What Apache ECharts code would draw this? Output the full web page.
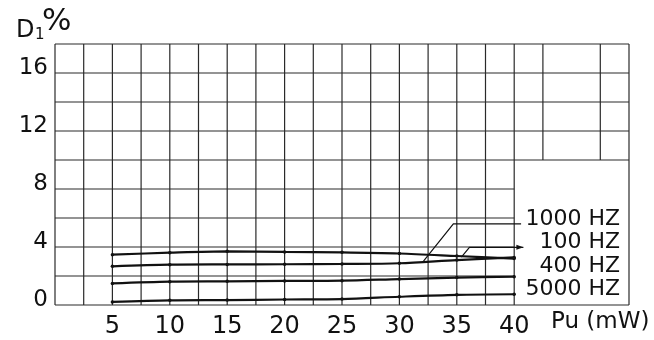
<!DOCTYPE html>
<html>
<head>
<meta charset="utf-8">
<script src="https://cdn.jsdelivr.net/npm/echarts@6/dist/echarts.min.js"></script>
<style>html,body{margin:0;padding:0;background:#fff}#c{width:654px;height:340px}</style>
</head>
<body>
<div id="c"></div>
<script>
// ---- data ----
const powerMW = [5, 10, 15, 20, 25, 30, 35, 40];
const d100Hz  = [3.47, 3.61, 3.70, 3.66, 3.63, 3.55, 3.38, 3.20];
const d1000Hz = [2.67, 2.78, 2.80, 2.81, 2.83, 2.88, 3.10, 3.28];
const d400Hz  = [1.49, 1.61, 1.63, 1.66, 1.68, 1.79, 1.89, 1.95];
const d5000Hz = [0.21, 0.32, 0.34, 0.38, 0.41, 0.57, 0.70, 0.74];
const seriesNames = ['100 HZ', '1000 HZ', '400 HZ', '5000 HZ'];
const xTickLabels = [5, 10, 15, 20, 25, 30, 35, 40];
const yTickLabels = [0, 4, 8, 12, 16];
// graph-paper rulings (data units)
const xRulings = [0,2.5,5,7.5,10,12.5,15,17.5,20,22.5,25,27.5,30,32.5,35,37.5,40,42.5,47.5,50];
const yRulings = [0,2,4,6,8,10,12,14,16,18];
const xMax = 50, yMax = 18;
const legendBoxX = 40, legendBoxY = 10; // open area holding the labels
// leader lines (data units)
const leader1000 = [[32.1, 3.02], [34.7, 5.6], [40.6, 5.6]];
const leader100  = [[35.4, 3.30], [36.1, 3.98], [40.8, 3.98]];

// ---- build ----
const rulingLines = [];
xRulings.forEach(x => {
  const y0 = (x > legendBoxX && x < xMax) ? legendBoxY : 0;
  rulingLines.push([x, y0, x, yMax]);
});
yRulings.forEach(y => {
  const x1 = (y > 0 && y < legendBoxY) ? legendBoxX : xMax;
  rulingLines.push([0, y, x1, y]);
});

const chart = echarts.init(document.getElementById('c'), null, {renderer: 'canvas'});
const font = 'DejaVu Sans';
function curve(name, vals) {
  return {
    name, type: 'line', data: powerMW.map((x, i) => [x, vals[i]]),
    smooth: 0.3, symbol: 'circle', symbolSize: 3.5, z: 5,
    lineStyle: {color: '#111', width: 2.2}, itemStyle: {color: '#111'}
  };
}
function leaderSeries(pts, arrow) {
  return {
    type: 'custom', z: 4, silent: true,
    data: [[pts[0][0], pts[0][1]]],
    renderItem: (params, api) => {
      const p = pts.map(q => api.coord(q));
      const children = [{type: 'polyline', shape: {points: p}, style: {stroke: '#111', lineWidth: 1.2, fill: null}}];
      if (arrow) {
        const e = p[p.length - 1];
        children.push({type: 'polygon', shape: {points: [[e[0], e[1]], [e[0] - 7, e[1] - 2.5], [e[0] - 7, e[1] + 2.5]]}, style: {fill: '#111'}});
      }
      return {type: 'group', children};
    }
  };
}

chart.setOption({
  animation: false,
  grid: {left: 55, top: 44, right: 25, bottom: 35},
  xAxis: {
    type: 'value', min: 0, max: xMax, interval: 5,
    axisLine: {show: false}, axisTick: {show: false}, splitLine: {show: false},
    axisLabel: {
      margin: 10, color: '#111', fontFamily: font, fontSize: 24,
      formatter: v => xTickLabels.includes(v) ? String(v) : ''
    }
  },
  yAxis: {
    type: 'value', min: 0, max: yMax, interval: 4,
    axisLine: {show: false}, axisTick: {show: false}, splitLine: {show: false},
    axisLabel: {
      margin: 7, color: '#111', fontFamily: font, fontSize: 23,
      formatter: v => yTickLabels.includes(v) ? '{a|' + v + '}' : '',
      rich: {a: {fontFamily: font, fontSize: 23, color: '#111', padding: [0, 0, 9, 0]}}
    }
  },
  graphic: [
    {type: 'text', left: 16, top: 19, style: {text: 'D', fontFamily: font, fontSize: 24, fill: '#111'}},
    {type: 'text', left: 35, top: 28, style: {text: '1', fontFamily: font, fontSize: 15, fill: '#111'}},
    {type: 'text', left: 42, top: 6, style: {text: '%', fontFamily: font, fontSize: 31, fill: '#111'}},
    {type: 'text', left: 551, top: 311, style: {text: 'Pu (mW)', fontFamily: font, fontSize: 23, fill: '#111'}},
    {type: 'text', right: 34, top: 208, style: {text: '1000 HZ', fontFamily: font, fontSize: 22, fill: '#111'}},
    {type: 'text', right: 34, top: 231, style: {text: '100 HZ', fontFamily: font, fontSize: 22, fill: '#111'}},
    {type: 'text', right: 34, top: 255, style: {text: '400 HZ', fontFamily: font, fontSize: 22, fill: '#111'}},
    {type: 'text', right: 34, top: 278, style: {text: '5000 HZ', fontFamily: font, fontSize: 22, fill: '#111'}}
  ],
  series: [
    {
      type: 'custom', z: 1, silent: true, data: rulingLines,
      encode: {x: [0, 2], y: [1, 3]},
      renderItem: (params, api) => {
        const a = api.coord([api.value(0), api.value(1)]);
        const b = api.coord([api.value(2), api.value(3)]);
        return {type: 'line', shape: {x1: a[0], y1: a[1], x2: b[0], y2: b[1]},
          style: {stroke: '#2a2a2a', lineWidth: 1.2}};
      }
    },
    curve(seriesNames[0], d100Hz),
    curve(seriesNames[1], d1000Hz),
    curve(seriesNames[2], d400Hz),
    curve(seriesNames[3], d5000Hz),
    leaderSeries(leader1000, false),
    leaderSeries(leader100, true)
  ]
});
</script>
</body>
</html>
